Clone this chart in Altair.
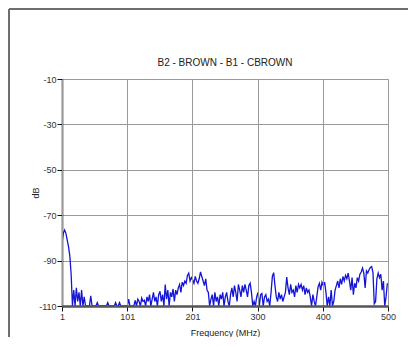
import altair as alt
import pandas as pd

# Frequency sample points (MHz), one every 2 MHz
freqs = list(range(1, 501, 2))

levels = [
    -82, -78, -76.5, -78, -81, -84, -88, -96, -110, -103,
    -110, -102, -108, -104, -110, -103, -110, -106, -110, -110,
    -110, -110, -105.5, -110, -110, -110, -110, -108.5, -110, -110,
    -110, -110, -110, -110, -110, -108.5, -110, -110, -110, -110,
    -110, -108.5, -110, -110, -108.5, -110, -110, -110, -110, -110,
    -110, -107, -110, -110, -110, -110, -107.5, -110, -107, -108,
    -110, -106.5, -108, -107.5, -110, -106, -108, -105, -110, -107,
    -104, -108, -106, -110, -105, -103.5, -108, -105, -110, -100.5,
    -107, -103, -110, -104, -106, -102.5, -108, -103, -105, -102,
    -100.5, -104, -99.5, -101, -99, -100, -96.5, -95.5, -99, -97.5,
    -98.5, -100, -97, -99, -100, -98, -95, -97, -99, -101,
    -98, -103, -104, -110, -107, -105, -110, -104, -108, -106,
    -110, -105, -107, -104, -110, -106, -104, -108, -110, -105,
    -102, -106, -101, -104, -108, -100.5, -103, -106, -101, -104,
    -100.5, -103, -106, -101, -100, -104, -110, -108, -110, -106,
    -104, -110, -105, -104.5, -110, -106, -105, -108, -107, -110,
    -104, -97, -95.3, -101, -106, -108, -104, -107, -105, -108,
    -106, -104, -97.3, -102, -105, -100.5, -104, -103, -106, -101,
    -104, -100.5, -102, -100.5, -103, -101, -105, -102, -104, -103,
    -106, -110, -105, -108, -110, -106, -101.5, -100, -103, -99.5,
    -101, -99.5, -104, -110, -106, -110, -103, -110, -108, -103,
    -101, -99, -102, -98, -100.5, -97, -99, -96.5, -98, -95.5,
    -99, -103, -97.5, -105, -100, -102, -97.5, -99, -96, -95,
    -93.3, -95.5, -102, -94.5, -95.5, -94, -93, -92.6, -95.3, -109,
    -108, -98, -95.5, -97.5, -96, -103, -99, -110, -106, -100,
]

x_ticks = [1, 100.8, 200.6, 300.4, 400.2, 500]
y_ticks = [-110, -90, -70, -50, -30, -10]
title_text = "B2 - BROWN - B1 - CBROWN"

df = pd.DataFrame({"freq": freqs, "db": levels})
title_df = pd.DataFrame({"t": [title_text]})

FONT = "Liberation Sans"
W, H = 326, 227

line = alt.Chart(df).mark_line(color="#1414d6", strokeWidth=1.3, clip=True).encode(
    x=alt.X(
        "freq:Q",
        scale=alt.Scale(domain=[1, 500], nice=False, zero=False),
        axis=alt.Axis(
            values=x_ticks,
            labelExpr="'' + round(datum.value)",
            title="Frequency (MHz)",
            titleX=W / 2,
            titleY=26,
            titleBaseline="middle",
            titleFontWeight="normal",
            titleFontSize=9,
            titleFont=FONT,
            titleColor="#222",
            labelFont=FONT,
            labelFontSize=9,
            labelColor="#333",
            labelPadding=1,
            tickSize=5,
            tickColor="#111",
            domainColor="#555",
            domainWidth=2.5,
            gridColor="#9a9a9a",
            gridWidth=1,
            labelFlush=False,
            zindex=1,
        ),
    ),
    y=alt.Y(
        "db:Q",
        scale=alt.Scale(domain=[-110, -10], nice=False, zero=False),
        axis=alt.Axis(
            values=y_ticks,
            labelExpr="'' + datum.value",
            title="dB",
            titleAngle=270,
            titleX=-27,
            titleY=H / 2,
            titleAlign="center",
            titleBaseline="middle",
            titleFontWeight="normal",
            titleFontSize=9,
            titleFont=FONT,
            titleColor="#222",
            labelFont=FONT,
            labelFontSize=9,
            labelColor="#333",
            labelPadding=1,
            tickSize=5,
            tickColor="#111",
            domainColor="#000",
            domainWidth=1.5,
            gridColor="#9a9a9a",
            gridWidth=1,
            labelFlush=False,
        ),
    ),
)

title = alt.Chart(title_df).mark_text(
    font=FONT, fontSize=10, color="#222", baseline="middle", align="center"
).encode(text="t:N", x=alt.value(W / 2), y=alt.value(-16))

frame_top = alt.Chart(df).mark_rule(color="#6e6e6e", strokeWidth=2).encode(
    x=alt.value(-53), x2=alt.value(W + 30), y=alt.value(-70)
)
frame_left = alt.Chart(df).mark_rule(color="#6e6e6e", strokeWidth=2).encode(
    x=alt.value(-53), y=alt.value(-70), y2=alt.value(H + 40)
)

chart = (
    alt.layer(frame_top, frame_left, title, line)
    .properties(
        width=W,
        height=H,
        autosize=alt.AutoSizeParams(type="none"),
        padding={"left": 54, "top": 71, "right": 20, "bottom": 31},
    )
    .configure_view(strokeWidth=0)
    .configure(background="white")
)

chart.save("out.html", embed_options={"renderer": "svg", "actions": False})
